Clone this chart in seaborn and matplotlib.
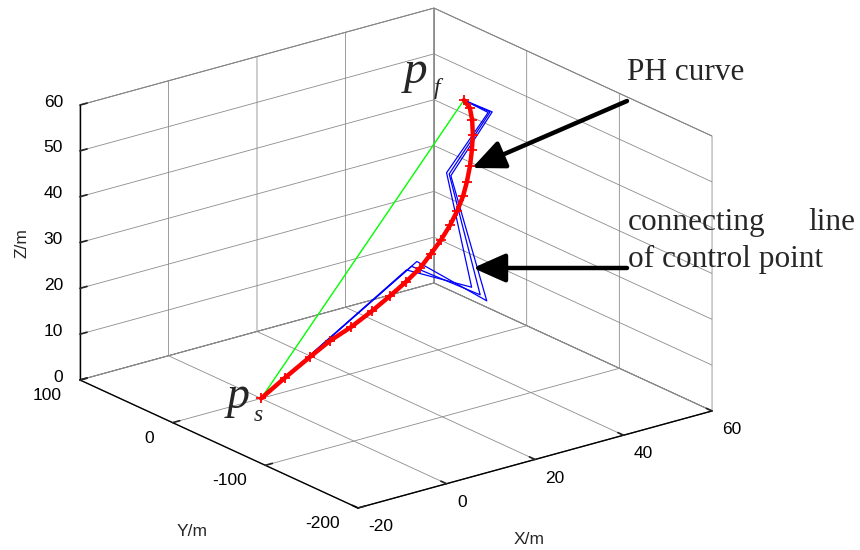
import numpy as np
import matplotlib
matplotlib.use("Agg")
import matplotlib.pyplot as plt
import seaborn as sns
from mpl_toolkits.mplot3d import proj3d

# ---------------- data ----------------
# PH curve (red, '+' markers)
ph_x = [0, 4.9, 10.0, 13.9, 17.9, 22.0, 25.6, 28.9, 31.9, 34.4, 36.8,
        39.2, 41.2, 43.1, 44.6, 46.2, 47.6, 48.8, 49.8, 50.3, 50]
ph_y = [0, -2.2, -5.1, -7.8, -11.5, -14.5, -16.6, -18.3, -19.2, -18.9, -18.2,
        -16.7, -14.8, -12.1, -8.9, -4.7, -0.1, 4.6, 10.1, 15.0, 20]
ph_z = [0, 3.4, 6.9, 9.6, 11.9, 14.6, 17.1, 19.5, 21.8, 24.2, 26.5,
        29.0, 31.4, 33.9, 36.2, 38.9, 41.6, 44.1, 46.6, 48.7, 50]

# connecting lines of control points (blue), three polygons
ctrl1_x = [0, 31.9, 39.0, 42.8, 53.2, 50]
ctrl1_y = [0, -15.7, -57.2, -0.3, 4.8, 20]
ctrl1_z = [0, 22.9, 16.3, 37.3, 48.0, 50]
ctrl2_x = [0, 30.8, 38.5, 42.7, 52.9, 50]
ctrl2_y = [0, -15.2, -52.5, 1.0, 5.6, 20]
ctrl2_z = [0, 22.1, 17.3, 37.6, 48.0, 50]
ctrl3_x = [0, 29.8, 37.8, 42.4, 52.6, 50]
ctrl3_y = [0, -14.5, -46.6, 2.4, 6.2, 20]
ctrl3_z = [0, 21.5, 18.6, 37.8, 47.9, 50]

# straight line start -> finish (green)
line_x = [0, 50]
line_y = [0, 20]
line_z = [0, 50]

x_ticks = [-20, 0, 20, 40, 60]
y_ticks = [-200, -100, 0, 100]
z_ticks = [0, 10, 20, 30, 40, 50, 60]
x_ticklabels = ["-20", "0", "20", "40", "60"]
y_ticklabels = ["-200", "-100", "0", "100"]
z_ticklabels = ["0", "10", "20", "30", "40", "50", "60"]

# ---------------- style ----------------
sns.set_theme(style="white")
plt.rcParams["font.family"] = ["Liberation Sans", "DejaVu Sans"]
plt.rcParams["axes.unicode_minus"] = False

W, H = 860, 550
fig = plt.figure(figsize=(W / 100, H / 100), dpi=100)
fig.patch.set_facecolor("white")
ax = fig.add_axes([0, 0, 1, 1], projection="3d", proj_type="ortho")
ax.set_facecolor("white")

for xs, ys, zs in [(ctrl1_x, ctrl1_y, ctrl1_z),
                   (ctrl2_x, ctrl2_y, ctrl2_z),
                   (ctrl3_x, ctrl3_y, ctrl3_z)]:
    ax.plot(xs, ys, zs, color=(0, 0, 1), lw=0.9)
ax.plot(line_x, line_y, line_z, color=(0, 1, 0), lw=1.0)
ax.plot(ph_x, ph_y, ph_z, color=(1, 0, 0), lw=3.2, marker="+",
        ms=7.5, mew=1.3)

x0, x1 = -20, 60
y0, y1 = -200, 100
z0, z1 = 0, 60
ax.set_xlim(x0, x1)
ax.set_ylim(y0, y1)
ax.set_zlim(z0, z1)
ax.set_xticks(x_ticks)
ax.set_yticks(y_ticks)
ax.set_zticks(z_ticks)
ax.set_box_aspect((447, 455, 294))
ax.view_init(elev=20.8, azim=-127.65)

for axis in (ax.xaxis, ax.yaxis, ax.zaxis):
    # tick labels are written below in MATLAB placement
    axis.set_tick_params(label1On=False, label2On=False)
    axis.set_pane_color((1, 1, 1, 1))
    axis.pane.set_edgecolor("0.4")
    axis.pane.set_linewidth(0.7)
    axis.line.set_color("black")
    axis.line.set_linewidth(1.0)
    axis._axinfo["grid"]["color"] = "0.55"
    axis._axinfo["grid"]["linewidth"] = 0.6
    axis._axinfo["tick"]["inward_factor"] = 0.0
    axis._axinfo["tick"]["outward_factor"] = 0.25
ax.grid(True)


def project(x, y, z):
    """3-D data point -> display pixels through the axes' own projection."""
    px, py, _ = proj3d.proj_transform(np.array([x]), np.array([y]),
                                      np.array([z]), ax.get_proj())
    return ax.transData.transform((px[0], py[0]))


# ---------------- fit the projected box to the layout ----------------
fig.canvas.draw()
corners = [(x0, y1, z0), (x1, y0, z0), (x0, y0, z0), (x1, y1, z1)]
targets = [(80, H - 380), (712, H - 411), (358, H - 508), (434, H - 8)]
inv = ax.transAxes.inverted()
rows, rhs = [], []
for c, t in zip(corners, targets):
    fx, fy = inv.transform(project(*c))
    rows.append([1, 0, fx]); rhs.append(t[0])
    rows.append([0, 1, fy]); rhs.append(t[1])
L, B, S = np.linalg.lstsq(np.array(rows), np.array(rhs), rcond=None)[0]
ax.set_position([L / W, B / H, S / W, S / H])
fig.canvas.draw()

# ---------------- overlay in pixel coordinates ----------------
ov = fig.add_axes([0, 0, 1, 1])
ov.set_xlim(0, W)
ov.set_ylim(H, 0)
ov.axis("off")
ov.patch.set_alpha(0)
to_ov = ov.transData.inverted()

# tick labels, anchored just outside the box edges (offsets in data units)
tk = dict(fontsize=12.5, color="black", va="center")
for v, s in zip(x_ticks, x_ticklabels):
    px, py = to_ov.transform(project(v, y0 - 11.3, z0 - 3.0))
    ov.text(px, py, s, ha="left", **tk)
for v, s in zip(y_ticks, y_ticklabels):
    px, py = to_ov.transform(project(x0 - 4.2, v, z0 - 2.3))
    ov.text(px, py, s, ha="right", **tk)
for v, s in zip(z_ticks, z_ticklabels):
    px, py = to_ov.transform(project(x0 - 1.5, y1 + 11.2, v))
    ov.text(px, py, s, ha="right", **tk)

# axis titles
ov.text(529, 540, "X/m", fontsize=12.5, ha="center", va="center")
ov.text(192, 531, "Y/m", fontsize=12.5, ha="center", va="center")
ov.text(22, 243, "Z/m", fontsize=12.5, ha="center", va="center",
        rotation=90)

serif = ["Liberation Serif", "DejaVu Serif"]
ov.text(627, 80, "PH curve", fontsize=22.5, family=serif, va="baseline")
ov.text(628, 230, "connecting", fontsize=22.5, family=serif, va="baseline")
ov.text(855, 230, "line", fontsize=22.5, family=serif, va="baseline",
        ha="right")
ov.text(628, 267, "of control point", fontsize=22.5, family=serif,
        va="baseline")

arrow = dict(arrowstyle="-|>,head_length=0.9,head_width=0.4", lw=3.2,
             color="black", mutation_scale=22, shrinkA=0, shrinkB=0)
ov.annotate("", xy=(472, 168), xytext=(627, 101), arrowprops=arrow)
ov.annotate("", xy=(473, 268), xytext=(627, 268), arrowprops=arrow)

ov.text(404, 83, "p", fontsize=34, family=serif, style="italic",
        va="baseline")
ov.text(434, 94, "f", fontsize=17, family=serif, style="italic",
        va="baseline")
ov.text(227, 408, "p", fontsize=33, family=serif, style="italic",
        va="baseline")
ov.text(254, 421, "s", fontsize=17, family=serif, style="italic",
        va="baseline")

fig.savefig("out.png", dpi=100)
